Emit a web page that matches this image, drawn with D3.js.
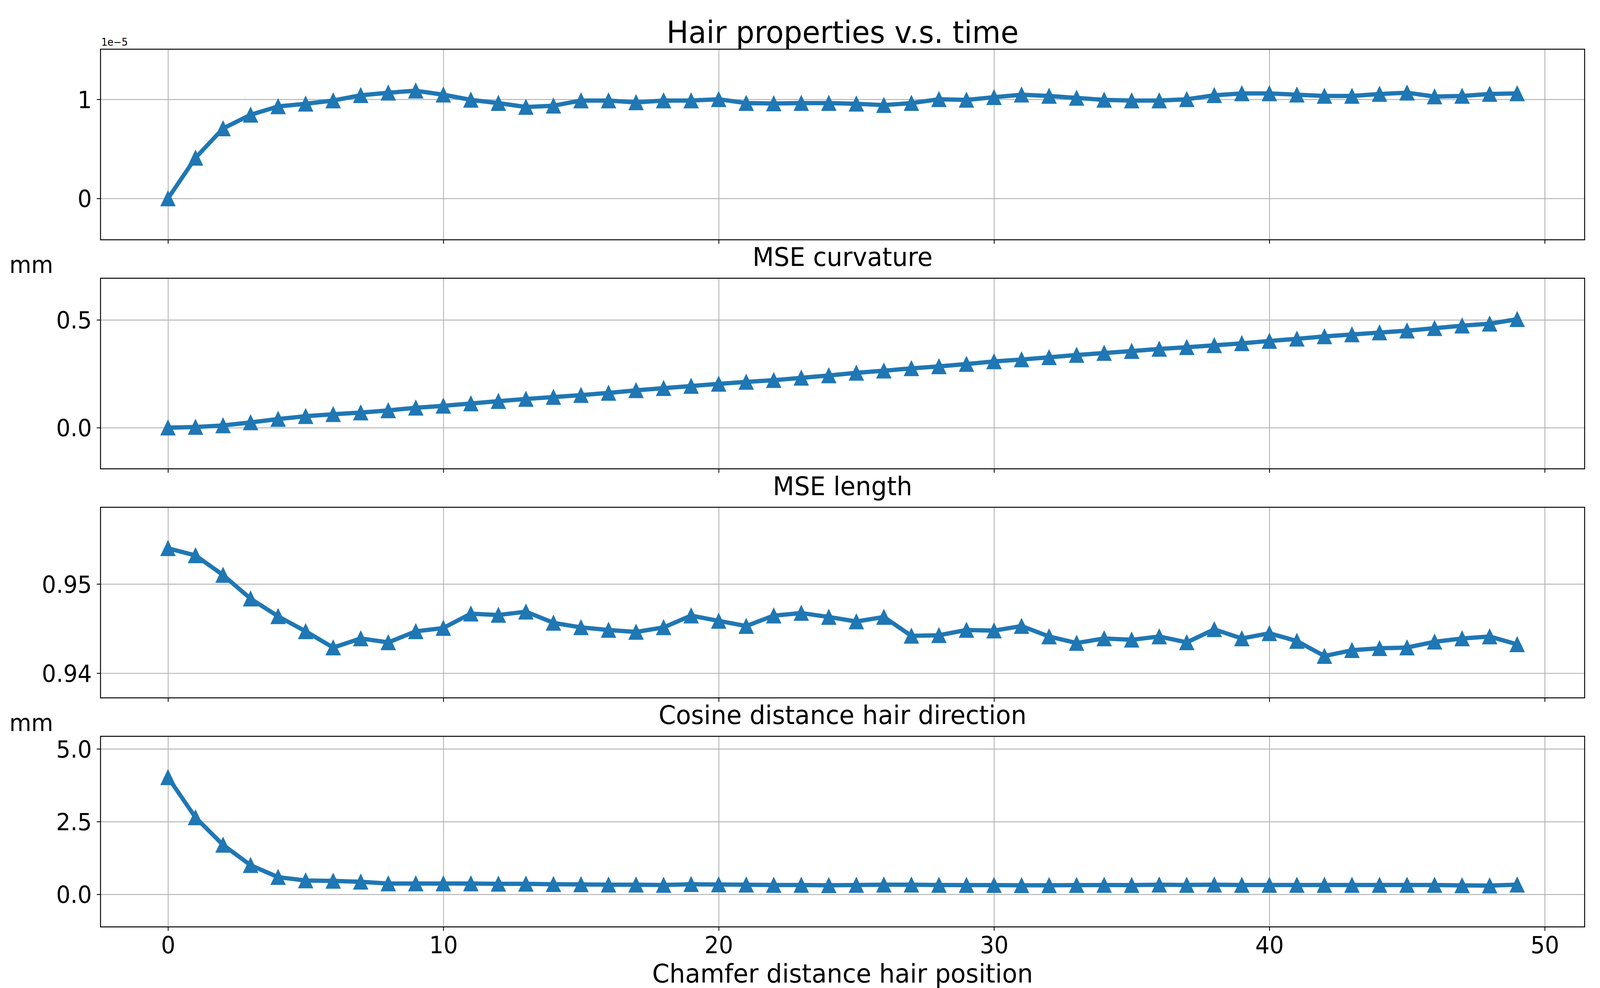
<!DOCTYPE html>
<html>
<head>
<meta charset="utf-8">
<script src="https://cdn.jsdelivr.net/npm/d3@7"></script>
<style>
  html, body { margin: 0; padding: 0; background: #fff; overflow: hidden; }
  svg { display: block; width: 100vw; height: 100vh; font-family: "DejaVu Sans", sans-serif; }
</style>
</head>
<body>
<div id="chart"></div>
<script>
// x positions (time step index)
const steps = d3.range(50)

// chamfer distance, values in units of 1e-5
const chamfer = [0, 0.41, 0.706, 0.844, 0.929, 0.955, 0.988, 1.041, 1.067, 1.087,
    1.047, 0.995, 0.962, 0.923, 0.936, 0.988, 0.988, 0.969, 0.988, 0.988,
    1.001, 0.962, 0.958, 0.962, 0.962, 0.955, 0.942, 0.962, 1.001, 0.995,
    1.021, 1.047, 1.034, 1.014, 0.995, 0.988, 0.988, 1.001, 1.041, 1.060,
    1.060, 1.047, 1.034, 1.034, 1.054, 1.067, 1.028, 1.034, 1.054, 1.060]

const curvature = [0, 0.003, 0.010, 0.024, 0.040, 0.053, 0.062, 0.070, 0.080, 0.092,
    0.101, 0.112, 0.123, 0.133, 0.142, 0.151, 0.161, 0.173, 0.183, 0.193,
    0.203, 0.212, 0.220, 0.231, 0.242, 0.254, 0.264, 0.275, 0.284, 0.295,
    0.307, 0.316, 0.326, 0.337, 0.346, 0.355, 0.365, 0.373, 0.382, 0.391,
    0.402, 0.412, 0.423, 0.432, 0.441, 0.450, 0.461, 0.473, 0.482, 0.503]

const length = [0.9540, 0.9532, 0.9510, 0.94835, 0.94637, 0.94469, 0.94287, 0.94389, 0.94345, 0.94469,
    0.94506, 0.94667, 0.94652, 0.94689, 0.94564, 0.94513, 0.94484, 0.94462, 0.94513, 0.94645,
    0.94586, 0.94528, 0.94645, 0.94674, 0.94630, 0.94579, 0.94630, 0.94418, 0.94425, 0.94484,
    0.94477, 0.94528, 0.94411, 0.94338, 0.94389, 0.94374, 0.94411, 0.94345, 0.94491, 0.94389,
    0.94447, 0.94360, 0.94192, 0.94257, 0.94279, 0.94287, 0.94352, 0.94389, 0.94411, 0.94323]

const direction = [4.02, 2.64, 1.70, 1.00, 0.59, 0.475, 0.46, 0.43, 0.37, 0.37,
    0.37, 0.37, 0.36, 0.36, 0.345, 0.34, 0.33, 0.33, 0.32, 0.345,
    0.335, 0.33, 0.32, 0.32, 0.31, 0.32, 0.33, 0.33, 0.32, 0.315,
    0.315, 0.31, 0.31, 0.315, 0.32, 0.315, 0.33, 0.32, 0.33, 0.32,
    0.32, 0.32, 0.32, 0.32, 0.32, 0.32, 0.32, 0.305, 0.30, 0.33]

const xTicks = [0, 10, 20, 30, 40, 50]

const panels = [
    {title: 'Hair properties v.s. time', values: chamfer, domain: [-0.417, 1.506],
     ticks: [0, 1], fmt: d3.format('d'), offset: '1e\u22125', unit: null, main: true},
    {title: 'MSE curvature', values: curvature, domain: [-0.191, 0.693],
     ticks: [0, 0.5], fmt: d3.format('.1f'), unit: 'mm'},
    {title: 'MSE length', values: length, domain: [0.93723, 0.9586],
     ticks: [0.94, 0.95], fmt: d3.format('.2f'), unit: null},
    {title: 'Cosine distance hair direction', values: direction, domain: [-1.12, 5.43],
     ticks: [0, 2.5, 5], fmt: d3.format('.1f'), unit: 'mm'}
]

const W = 4266, H = 2530
const margin = {l: 268, r: W - 4225}
const panelH = 488, panelTop = 126, panelStep = 586.5
const blue = '#1f77b4', gridColor = '#b0b0b0'
const tickFont = 60, labelFont = 66

// scale to whatever the viewport is, keeping the 4266x2530 drawing space
const svg = d3.select('#chart').append('svg')
    .attr('viewBox', `0 0 ${W} ${H}`)
    .attr('preserveAspectRatio', 'none')

const x = d3.scaleLinear().domain([-2.45, 51.45]).range([margin.l, W - margin.r])
const plotW = W - margin.r - margin.l

panels.forEach((p, i) => {
    const top = panelTop + i * panelStep
    const y = d3.scaleLinear().domain(p.domain).range([top + panelH, top])
    const g = svg.append('g')

    // grid lines
    g.append('g')
        .attr('transform', `translate(0,${top + panelH})`)
        .call(d3.axisBottom(x).tickValues(xTicks).tickSize(-panelH).tickFormat(''))
        .call(a => a.select('.domain').remove())
        .call(a => a.selectAll('line').attr('stroke', gridColor).attr('stroke-width', 2.2))
    g.append('g')
        .attr('transform', `translate(${margin.l},0)`)
        .call(d3.axisLeft(y).tickValues(p.ticks).tickSize(-plotW).tickFormat(''))
        .call(a => a.select('.domain').remove())
        .call(a => a.selectAll('line').attr('stroke', gridColor).attr('stroke-width', 2.2))

    // y axis
    g.append('g')
        .attr('transform', `translate(${margin.l},0)`)
        .call(d3.axisLeft(y).tickValues(p.ticks).tickFormat(p.fmt).tickSize(10).tickPadding(13))
        .call(a => a.select('.domain').remove())
        .call(a => a.selectAll('line').attr('stroke', '#000').attr('stroke-width', 2.2))
        .call(a => a.selectAll('text').attr('font-size', tickFont)
            .attr('font-family', '"DejaVu Sans", sans-serif').attr('fill', '#000').attr('dy', '0.36em'))

    // x axis (labels only on the last panel)
    const xa = d3.axisBottom(x).tickValues(xTicks).tickSize(10).tickPadding(15)
    if (i < panels.length - 1) xa.tickFormat('')
    g.append('g')
        .attr('transform', `translate(0,${top + panelH})`)
        .call(xa)
        .call(a => a.select('.domain').remove())
        .call(a => a.selectAll('line').attr('stroke', '#000').attr('stroke-width', 2.2))
        .call(a => a.selectAll('text').attr('font-size', tickFont)
            .attr('font-family', '"DejaVu Sans", sans-serif').attr('fill', '#000'))

    // series line
    const line = d3.line().x((d, j) => x(steps[j])).y(d => y(d))
    g.append('path').datum(p.values)
        .attr('d', line)
        .attr('fill', 'none')
        .attr('stroke', blue)
        .attr('stroke-width', 11)
        .attr('stroke-linejoin', 'round')
        .attr('stroke-linecap', 'square')

    // triangle markers
    const ms = 19
    g.append('g').selectAll('path').data(p.values).enter().append('path')
        .attr('d', (d, j) => {
            const cx = x(steps[j]), cy = y(d)
            return `M${cx},${cy - ms}L${cx + ms},${cy + ms}L${cx - ms},${cy + ms}Z`
        })
        .attr('fill', blue)
        .attr('stroke', blue)
        .attr('stroke-width', 2)

    // frame
    g.append('rect')
        .attr('x', margin.l).attr('y', top)
        .attr('width', plotW).attr('height', panelH)
        .attr('fill', 'none').attr('stroke', '#000').attr('stroke-width', 2.5)

    // titles
    svg.append('text')
        .attr('x', margin.l + plotW / 2)
        .attr('y', p.main ? top - 16 : top - 31)
        .attr('text-anchor', 'middle')
        .attr('font-size', p.main ? 78 : labelFont)
        .text(p.title)

    if (p.offset) {
        svg.append('text')
            .attr('x', margin.l + 2).attr('y', top - 9)
            .attr('font-size', 26)
            .text(p.offset)
    }
    if (p.unit) {
        svg.append('text')
            .attr('x', 25).attr('y', top - 13)
            .attr('font-size', tickFont)
            .text(p.unit)
    }
})

svg.append('text')
    .attr('x', margin.l + plotW / 2)
    .attr('y', 2516)
    .attr('text-anchor', 'middle')
    .attr('font-size', labelFont)
    .text('Chamfer distance hair position')
</script>
</body>
</html>
